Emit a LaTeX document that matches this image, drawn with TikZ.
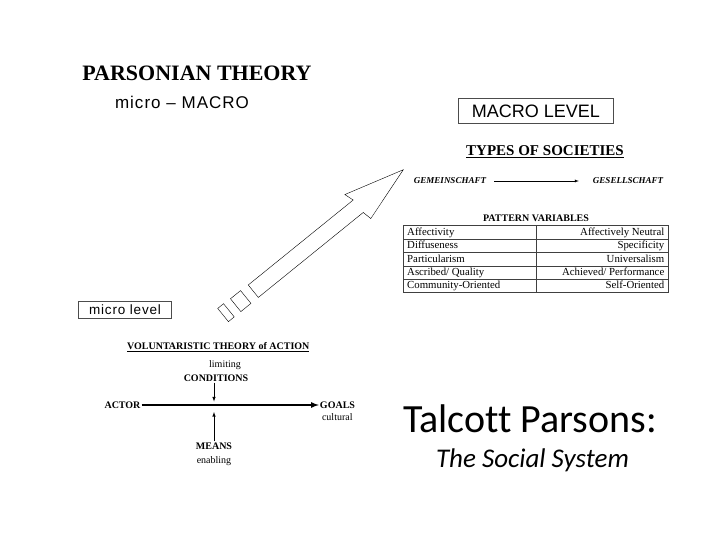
\documentclass[tikz,border=0pt]{standalone}
\usepackage{fontspec}
\setmainfont{Liberation Serif}
\newfontfamily\arialfont{Liberation Sans}
\newfontfamily\arialsp[LetterSpace=6]{Liberation Sans}
\newfontfamily\calibrifont[Ligatures=NoCommon]{Carlito}
\usepackage{tikz}

\begin{document}
\begin{tikzpicture}[x=1pt,y=-1pt,
    hd/.style={font=\fontsize{10}{12}\selectfont\bfseries, inner sep=1pt},
    sm/.style={font=\fontsize{10}{12}\selectfont, inner sep=1pt},
    soc/.style={font=\fontsize{9}{11}\selectfont\bfseries\itshape, inner sep=1pt},
    cell/.style={font=\fontsize{10.8}{12}\selectfont, inner sep=0pt},
    lvlbox/.style={draw=black!70, thin, inner sep=0pt}]
      \useasboundingbox (0,0) rectangle (720,540);
      % titles
      \node (T) at (197,73) {\fontsize{22}{24}\selectfont\bfseries PARSONIAN THEORY};
      \node (MM) at (182,102) {\arialsp\fontsize{17}{20}\selectfont micro – MACRO};
      \node [lvlbox, minimum width=155, minimum height=25] (ML) at (536,111) {\arialfont\fontsize{18}{20}\selectfont MACRO LEVEL};
      \node (TS) at (545,152) {\fontsize{15}{18}\selectfont\bfseries\underline{TYPES OF SOCIETIES}};
      \node [soc] (G1) at (450,181) {GEMEINSCHAFT};
      \node [soc] (G2) at (628,181) {GESELLSCHAFT};
      \draw [-latex, thin, shorten <=7pt, shorten >=13pt] (G1) -- (G2);
      % pattern variables
      \node [hd] (PV) at (536,218) {PATTERN VARIABLES};
      \draw [black!75, thin] (403,225.3) rectangle (668,292);
      \draw [black!75, thin] (536.3,225.3) -- (536.3,292);
      \foreach \y in {238.7,252.3,265.7,279}
        \draw [black!75, thin] (403,\y) -- (668,\y);
      \foreach \lft/\rgt [count=\i] in {Affectivity/Affectively Neutral, Diffuseness/Specificity, Particularism/Universalism, {Ascribed/ Quality}/{Achieved/ Performance}, Community-Oriented/Self-Oriented} {
        \node [cell, anchor=base west] (L\i) at (407,{225.3+13.35*(\i-0.5)+3.6}) {\lft};
        \node [cell, anchor=base east] (R\i) at (664.5,{225.3+13.35*(\i-0.5)+3.6}) {\rgt};
      }
      % big arrow
      \begin{scope}[shift={(253.3,291.2)}, rotate=39, thin]
        \draw (0,-8) -- (135,-8) -- (132,-17.5) -- (193,0) -- (137,17.5) -- (135,8) -- (0,8) -- cycle;
        \draw (-22.5,-8.5) rectangle (-9.5,8);
        \draw (-38.5,-9) rectangle (-31,8);
      \end{scope}
      \node [lvlbox, minimum width=93, minimum height=17] (mL) at (125,310) {\arialsp\fontsize{13.5}{15}\selectfont micro level};
      % voluntaristic theory
      \node [hd] (VT) at (218.3,347) {\underline{VOLUNTARISTIC THEORY of ACTION}};
      \node [sm] (lim) at (225,365) {limiting};
      \node [hd] (C) at (216,378) {CONDITIONS};
      \node [hd] (A) at (122.5,405) {ACTOR};
      \node [hd] (G) at (337.5,405) {GOALS};
      \node [sm] (cul) at (337.3,417) {cultural};
      \node [hd] (M) at (214,446) {MEANS};
      \node [sm] (en) at (214,461) {enabling};
      \coordinate (dn) at (214,401.5);
      \coordinate (up) at (214,412);
      \draw [-latex, line width=1.6pt] (A) -- (G);
      \draw [-latex, semithick] (dn |- C.south) -- (dn);
      \draw [-latex, semithick] (M.north) -- (up);
      % caption
      \node (TP) at (530,419) {\calibrifont\fontsize{40}{44}\selectfont Talcott Parsons:};
      \node (SS) at (532.5,460) {\calibrifont\itshape\fontsize{27}{30}\selectfont The Social System};
    \end{tikzpicture}
\end{document}
